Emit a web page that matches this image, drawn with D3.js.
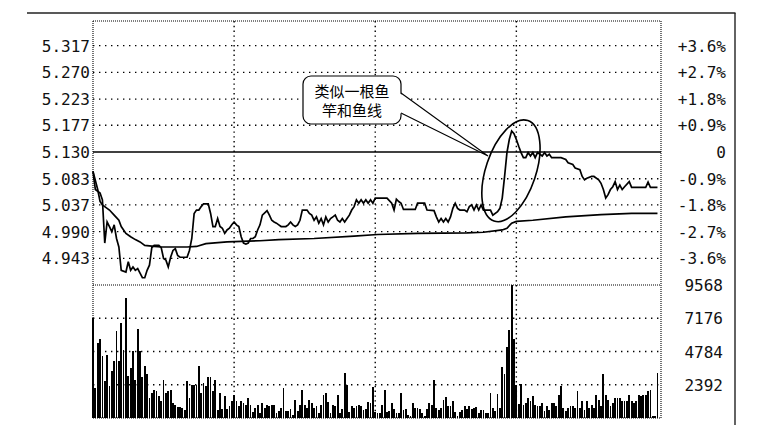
<!DOCTYPE html>
<html><head><meta charset="utf-8">
<script src="https://cdn.jsdelivr.net/npm/d3@7/dist/d3.min.js"></script>
<style>html,body{margin:0;padding:0;background:#fff;}svg{display:block}</style>
</head><body><svg id="c" width="770" height="443"></svg>
<script>
// ---------- data ----------
const priceTicks = ["5.317","5.270","5.223","5.177","5.130","5.083","5.037","4.990","4.943"];
const pctTicks   = ["+3.6%","+2.7%","+1.8%","+0.9%","0","-0.9%","-1.8%","-2.7%","-3.6%"];
const volTicks   = [9568, 7176, 4784, 2392];
const prevClose  = 5.130;
const sessionMarks = [60, 120, 180];   // minute index of 10:30, 11:30/13:00, 14:00

// price line: [minute index, price]
const priceLine = [[0,5.096],[1,5.064],[3,5.058],[4,5.046],[5,4.970],[6,5.007],[7,4.999],[8,4.990],[9,5.002],[10,4.978],
[11,4.963],[12,4.922],[14,4.919],[15,4.937],[16,4.922],[17,4.928],[18,4.922],[19,4.925],[20,4.917],[21,4.909],[22,4.909],
[23,4.922],[24,4.931],[25,4.962],[26,4.966],[28,4.966],[29,4.962],[30,4.943],[31,4.940],[32,4.928],[33,4.945],[34,4.957],
[35,4.960],[36,4.948],[37,4.945],[40,4.945],[41,4.957],[42,4.978],[43,5.022],[44,5.028],[45,5.028],[46,5.034],[47,5.039],
[49,5.039],[50,5.022],[51,4.999],[52,4.999],[53,5.013],[54,4.999],[55,4.996],[56,4.987],[57,4.993],[58,4.996],[59,5.002],
[60,5.007],[61,5.002],[62,4.999],[63,4.981],[64,4.970],[65,4.968],[66,4.970],[67,4.978],[68,4.978],[69,4.981],[70,4.993],
[71,5.002],[72,5.019],[74,5.027],[75,5.019],[76,5.010],[77,5.007],[78,5.005],[79,5.002],[80,4.999],[82,4.999],[83,5.002],
[84,5.007],[85,5.002],[86,4.999],[87,5.002],[88,5.010],[89,5.028],[91,5.028],[92,5.022],[93,5.019],[94,5.010],[95,5.016],
[96,5.005],[97,5.013],[98,5.002],[99,5.016],[100,5.007],[101,5.013],[102,5.016],[103,5.019],[104,5.010],[105,5.007],
[106,5.013],[107,5.007],[108,5.013],[109,5.019],[110,5.028],[111,5.034],[112,5.046],[113,5.040],[114,5.046],[115,5.040],
[116,5.046],[117,5.040],[118,5.046],[119,5.040],[120,5.049],[125,5.049],[127,5.040],[128,5.028],[129,5.047],[130,5.043],
[131,5.040],[132,5.029],[137,5.029],[138,5.040],[141,5.040],[142,5.028],[145,5.027],[146,5.016],[147,5.007],[148,5.013],
[149,5.007],[150,5.013],[151,5.007],[152,5.016],[153,5.031],[154,5.040],[155,5.031],[156,5.028],[158,5.028],[159,5.025],
[160,5.034],[161,5.037],[162,5.028],[163,5.037],[164,5.028],[165,5.037],[166,5.028],[169,5.028],[170,5.019],[172,5.025],
[173,5.031],[174,5.049],[175,5.087],[176,5.129],[177,5.152],[178,5.167],[179,5.162],[180,5.152],[181,5.140],[182,5.129],
[183,5.120],[184,5.120],[185,5.129],[186,5.123],[187,5.129],[188,5.120],[189,5.129],[190,5.126],[191,5.123],[192,5.129],
[193,5.123],[194,5.126],[195,5.120],[199,5.120],[201,5.117],[202,5.111],[204,5.108],[205,5.102],[207,5.099],[208,5.087],
[209,5.081],[210,5.084],[212,5.087],[213,5.087],[215,5.081],[216,5.075],[217,5.064],[218,5.049],[219,5.055],[220,5.064],
[221,5.069],[222,5.078],[223,5.064],[224,5.072],[225,5.064],[226,5.069],[228,5.078],[229,5.068],[235,5.068],[236,5.077],
[237,5.068],[240,5.068]];

// average price line: [minute index, price]
const avgLine = [[0,5.096],[2,5.064],[3,5.043],[4,5.037],[6,5.031],[7,5.028],[9,5.019],[11,5.010],[12,4.999],[14,4.987],
[16,4.981],[18,4.976],[20,4.972],[22,4.966],[26,4.964],[29,4.963],[40,4.963],[44,4.964],[48,4.969],[57,4.972],[71,4.974],
[79,4.976],[94,4.978],[111,4.982],[121,4.985],[138,4.987],[159,4.988],[166,4.989],[174,4.993],[176,4.996],[178,5.005],
[180,5.008],[187,5.010],[201,5.016],[216,5.020],[229,5.022],[240,5.022]];

// volume per minute (241 minutes)
const volume = [7170,
2153,5383,5691,4471,2627,4543,2318,3416,4112,6287,4112,6861,4902,8612,3036,3632,4830,2749,6409,4830,
2943,3754,3179,1435,1794,2031,1909,1550,1191,2749,1794,1909,2031,1077,955,761,761,718,596,2627,
1435,2390,2390,2390,3754,1794,2512,2318,2943,2943,1909,2749,545,1794,667,1550,646,883,1191,1672,
1191,883,1191,1077,955,1435,955,402,718,955,
336,1056,696,936,864,936,936,384,504,696,
2136,504,504,624,216,1296,504,936,2016,936,
696,1296,1056,696,864,336,936,1656,1824,1176,
336,936,864,1656,336,624,3264,2376,456,864,
696,864,936,864,576,624,1176,1056,2256,456,
384,384,936,2016,456,504,1104,624,336,384,
1776,576,624,216,144,1056,744,696,624,336,
144,624,1056,936,2736,696,576,696,1296,1536,
864,864,1224,456,144,456,576,864,624,864,
624,744,816,336,576,576,336,384,1776,696,
504,1728,696,
3700,3200,5100,6300,9568,5700,2392,1000,2450,
955,1077,1435,1196,1555,955,885,885,1077,478,
837,598,1077,1077,885,1674,2318,718,478,718,
837,885,718,1914,718,1196,598,1196,718,955,
718,1674,1316,837,3158,1674,1316,837,1077,1435,
1435,1435,1196,1196,1196,1674,1196,1077,1196,1674,
1555,1674,1674,1914,2033,120,120,3273];

const calloutLines = ["类似一根鱼", "竿和鱼线"];

// ---------- layout ----------
const svg = d3.select("#c");
const L = 93, R = 661, T = 21, MID = 285, B = 418;
const step = 0.04675;
const x = d3.scaleLinear().domain([0, 241.5]).range([L, R]);
const y = d3.scaleLinear().domain([prevClose - 5*step, prevClose + 5*step]).range([MID, 19]);
const yv = d3.scaleLinear().domain([0, 9568]).range([B, MID]);

svg.append("rect").attr("width",770).attr("height",443).attr("fill","#fff");

// outer frame
svg.append("line").attr("x1",27).attr("x2",735.5).attr("y1",13).attr("y2",13)
  .attr("stroke","#222").attr("stroke-width",1.4);
svg.append("line").attr("x1",735).attr("x2",735).attr("y1",13).attr("y2",425)
  .attr("stroke","#222").attr("stroke-width",1.4);

const grid = svg.append("g").attr("stroke","#000");
priceTicks.forEach(t => {
  const v = +t;
  if (Math.abs(v - prevClose) < 1e-6) return;
  grid.append("line").attr("x1",L).attr("x2",R).attr("y1",y(v)).attr("y2",y(v))
    .attr("stroke-width",1.4).attr("stroke-dasharray","1.4,4.6");
});
volTicks.slice(1).forEach(v => {
  grid.append("line").attr("x1",L).attr("x2",R).attr("y1",yv(v)).attr("y2",yv(v))
    .attr("stroke-width",1.4).attr("stroke-dasharray","1.4,4.6");
});
sessionMarks.forEach(m => {
  grid.append("line").attr("x1",x(m)).attr("x2",x(m)).attr("y1",T).attr("y2",B)
    .attr("stroke-width",1.4).attr("stroke-dasharray","1.4,3.4");
});
[[L,T,R,T],[L,MID,R,MID],[L,B,R,B],[L,T,L,B],[R,T,R,B]].forEach(s => {
  grid.append("line").attr("x1",s[0]).attr("y1",s[1]).attr("x2",s[2]).attr("y2",s[3])
    .attr("stroke-width",1.1).attr("stroke-dasharray","1,1");
});

// previous close line
svg.append("line").attr("x1",L).attr("x2",R).attr("y1",y(prevClose)).attr("y2",y(prevClose))
  .attr("stroke","#000").attr("stroke-width",1.5);

// volume bars
svg.append("g").selectAll("rect").data(volume).join("rect")
  .attr("x",(d,i)=>x(i)-0.9).attr("width",1.8)
  .attr("y",d=>yv(d)).attr("height",d=>B-yv(d))
  .attr("fill","#000").attr("shape-rendering","crispEdges");

// price & average lines
const line = d3.line().x(d=>x(d[0])).y(d=>y(d[1]));
svg.append("path").attr("d",line(avgLine)).attr("fill","none").attr("stroke","#000").attr("stroke-width",1.7);
svg.append("path").attr("d",line(priceLine)).attr("fill","none").attr("stroke","#000").attr("stroke-width",1.7);

// ellipse around the spike
svg.append("ellipse")
  .attr("transform",`translate(${x(177.7)},${y(5.097)}) rotate(18.6)`)
  .attr("rx",25).attr("ry",53).attr("fill","none").attr("stroke","#000").attr("stroke-width",1.6);

// callout
const cb = {x:303, y:76, w:98, h:48};
const tip = [488, 156];
svg.append("rect").attr("x",cb.x).attr("y",cb.y).attr("width",cb.w).attr("height",cb.h)
  .attr("rx",8).attr("fill","#fff").attr("stroke","#000").attr("stroke-width",1.2);
svg.append("path").attr("d",`M${cb.x+cb.w-1.5},93 L${tip[0]},${tip[1]} L${cb.x+cb.w-1.5},113 Z`)
  .attr("fill","#fff");
svg.append("path").attr("d",`M${cb.x+cb.w},93 L${tip[0]},${tip[1]} L${cb.x+cb.w},113`)
  .attr("fill","none").attr("stroke","#000").attr("stroke-width",1.1);
calloutLines.forEach((t,k) => {
  svg.append("text").attr("x",cb.x+cb.w/2).attr("y",96.5+k*19.5).attr("text-anchor","middle")
    .attr("font-family","'Noto Sans CJK SC', sans-serif").attr("font-size",15).attr("fill","#000").text(t);
});

// labels
const lab = svg.append("g").attr("font-family","'DejaVu Sans Mono', monospace").attr("font-size",16).attr("fill","#111");
priceTicks.forEach((t,k) => {
  lab.append("text").attr("x",90).attr("y",y(+t)+6).attr("text-anchor","end").text(t);
  lab.append("text").attr("x",726).attr("y",y(+t)+6).attr("text-anchor","end").text(pctTicks[k]);
});
volTicks.forEach(v => {
  lab.append("text").attr("x",723).attr("y",yv(v)+6).attr("text-anchor","end").text(String(v));
});
</script></body></html>
